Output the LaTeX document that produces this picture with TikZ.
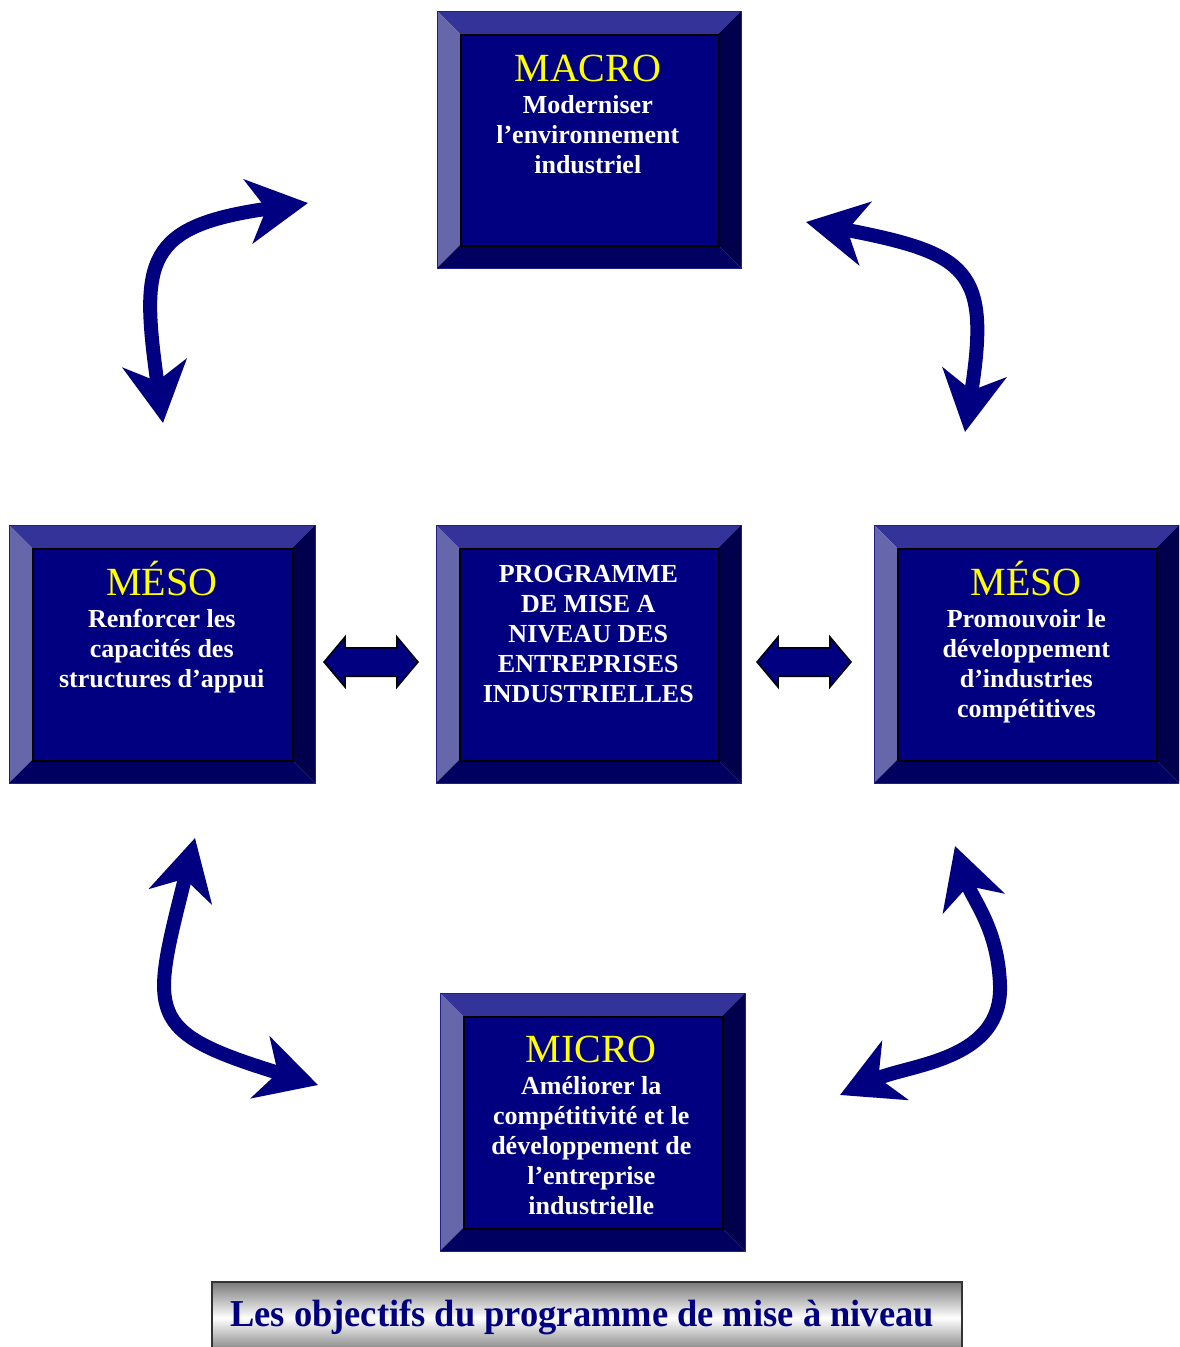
\documentclass[tikz,border=0pt]{standalone}
\usepackage{fontspec}
\setmainfont{Liberation Serif}
\usetikzlibrary{arrows.meta,shapes.arrows}

\definecolor{facenavy}{RGB}{0,0,128}
\definecolor{bevtop}{RGB}{51,51,153}
\definecolor{bevleft}{RGB}{102,102,170}
\definecolor{bevright}{RGB}{0,0,77}
\definecolor{bevbottom}{RGB}{0,0,96}
\definecolor{edgeblue}{RGB}{30,30,140}
\definecolor{titleyellow}{RGB}{255,255,0}
\definecolor{capgray}{RGB}{120,120,120}

\tikzset{
  face/.style={draw=black, line width=1.6pt, fill=facenavy, inner sep=0pt, anchor=north west},
  outline/.style={draw=edgeblue, line width=1pt},
  titletext/.style={text=titleyellow, font=\fontsize{40}{40}\selectfont, anchor=base, inner sep=0pt},
  bodytext/.style={text=white, font=\fontsize{26}{30}\selectfont\bfseries, align=center, anchor=north, inner sep=0pt},
  loop arrow/.style={draw=facenavy, line width=14pt,
    >={Stealth[length=60pt,width=64pt,inset=18pt]}, <->},
  block arrow/.style={double arrow, draw=black, line width=1.5pt, fill=facenavy,
    minimum height=94pt, double arrow head extend=11pt, double arrow tip angle=100,
    inner sep=0pt, text height=13.5pt, text depth=13.5pt, text width=0pt},
  capbox/.style={draw=black!80, line width=1.5pt, top color=capgray, bottom color=capgray,
    middle color=white, anchor=north west, inner sep=0pt},
  captext/.style={text=facenavy, font=\fontsize{38}{38}\selectfont\bfseries, anchor=base, inner sep=0pt}
}

% bevelled panel: name, left, top, width, height (y measured downwards)
\newcommand\bevelbox[5]{%
  \begin{scope}[shift={(#2,-#3)}]
    \fill[bevtop] (0,0) -- (#4,0) -- (#4-23,-23) -- (23,-23) -- cycle;
    \fill[bevleft] (0,0) -- (23,-23) -- (23,-#5+23) -- (0,-#5) -- cycle;
    \fill[bevright] (#4,0) -- (#4,-#5) -- (#4-23,-#5+23) -- (#4-23,-23) -- cycle;
    \fill[bevbottom] (0,-#5) -- (#4,-#5) -- (#4-23,-#5+23) -- (23,-#5+23) -- cycle;
    \draw[outline] (0,0) rectangle (#4,-#5);
    \node[face, minimum width={(#4-46)*1pt}, minimum height={(#5-46)*1pt}] (#1) at (23,-23) {};
  \end{scope}}

\begin{document}
\begin{tikzpicture}[x=1pt,y=1pt]
  \useasboundingbox (0,0) rectangle (1179,-1347);
  \clip (0,0) rectangle (1179,-1347);

  % panels
  \bevelbox{macro}{437}{11}{304}{257}
  \bevelbox{mesoL}{9}{525}{306}{258}
  \bevelbox{prog}{436}{525}{305}{258}
  \bevelbox{mesoR}{874}{525}{305}{258}
  \bevelbox{micro}{440}{993}{305}{258}

  % panel texts
  \node[titletext, xshift=-2pt, yshift=-47pt] (macroT) at (macro.north) {MACRO};
  \node[bodytext, xshift=-2pt, yshift=-61pt] (macroB) at (macro.north) {Moderniser\\l’environnement\\industriel};

  \node[titletext, xshift=-1pt, yshift=-47pt] (mesoLT) at (mesoL.north) {MÉSO};
  \node[bodytext, xshift=-1pt, yshift=-61pt] (mesoLB) at (mesoL.north) {Renforcer les\\capacités des\\structures d’appui};

  \node[bodytext, xshift=-1pt, yshift=-17pt] (progB) at (prog.north) {PROGRAMME\\DE MISE A\\NIVEAU DES\\ENTREPRISES\\INDUSTRIELLES};

  \node[titletext, xshift=-1pt, yshift=-47pt] (mesoRT) at (mesoR.north) {MÉSO};
  \node[bodytext, xshift=-1pt, yshift=-61pt] (mesoRB) at (mesoR.north) {Promouvoir le\\développement\\d’industries\\compétitives};

  \node[titletext, xshift=-2pt, yshift=-46pt] (microT) at (micro.north) {MICRO};
  \node[bodytext, xshift=-2pt, yshift=-60pt] (microB) at (micro.north) {Améliorer la\\compétitivité et le\\développement de\\l’entreprise\\industrielle};

  % block arrows between the centre panel and the side panels
  \node[block arrow] (linkL) at (371,-662) {};
  \node[block arrow] (linkR) at (804,-662) {};

  % curved two-way arrows
  \coordinate (tlA) at (163,-423);
  \coordinate (tlB) at (308,-203);
  \coordinate (trA) at (806,-222);
  \coordinate (trB) at (965,-432);
  \coordinate (blA) at (195,-838);
  \coordinate (blB) at (318,-1085);
  \coordinate (brA) at (955,-846);
  \coordinate (brM) at (1000,-985);
  \coordinate (brB) at (840,-1095);
  \draw[loop arrow] (tlA) to[out=98, in=188, looseness=1.6] (tlB);
  \draw[loop arrow] (trA) to[out=-11, in=81, looseness=1.6] (trB);
  \draw[loop arrow] (blA) to[out=256, in=163, looseness=1.7] (blB);
  \draw[loop arrow] (brA) to[out=288, in=92] (brM) to[out=272, in=24] (brB);

  % caption
  \node[capbox, minimum width=750pt, minimum height=72pt] (capbox) at (211,-1281) {};
  \node[captext] (cap) at (582,-1326) {\scalebox{0.96}[1]{Les objectifs du programme de mise à niveau}};
\end{tikzpicture}
\end{document}
